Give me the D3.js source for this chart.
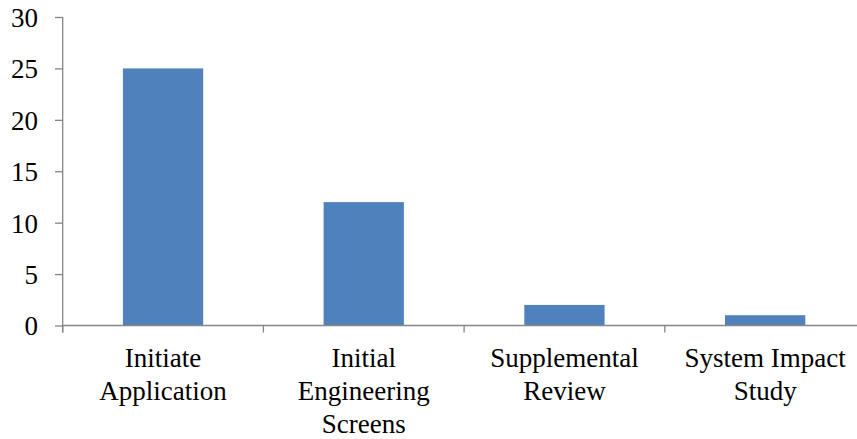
<!DOCTYPE html>
<html>
<head>
<meta charset="utf-8">
<script src="https://cdn.jsdelivr.net/npm/d3@7"></script>
<style>
  html, body { margin: 0; padding: 0; background: #fff; }
  svg { display: block; }
</style>
</head>
<body>
<svg id="chart" width="857" height="439"></svg>
<script>
const categories = [
  ["Initiate", "Application"],
  ["Initial", "Engineering", "Screens"],
  ["Supplemental", "Review"],
  ["System Impact", "Study"]
];
const values = [25, 12, 2, 1];
const yTicks = [0, 5, 10, 15, 20, 25, 30];

const W = 857, H = 439;
const mLeft = 62.7, mRight = 865.5, mTop = 17, mBottom = 325.5;
const axisColor = "#868686";
const barColor = "#4F81BD";
const font = "Liberation Serif, Times New Roman, serif";

const svg = d3.select("#chart");
const keys = categories.map((c, i) => i);

const xBand = d3.scaleBand().domain(keys).range([mLeft, mRight]).padding(0);
const xBar = d3.scaleBand().domain(keys).range([mLeft, mRight]).paddingInner(0.6).paddingOuter(0.3);
const y = d3.scaleLinear().domain([0, 30]).range([mBottom, mTop]);

// bars
svg.append("g").selectAll("rect").data(values).join("rect")
  .attr("x", (d, i) => xBar(i))
  .attr("width", xBar.bandwidth())
  .attr("y", d => y(d))
  .attr("height", d => y(0) - y(d))
  .attr("fill", barColor);

// y axis
const yAxis = d3.axisLeft(y).tickValues(yTicks).tickSize(7.7).tickPadding(17).tickFormat(d3.format("d"));
const gy = svg.append("g").attr("transform", `translate(${mLeft},0)`).call(yAxis);
gy.select(".domain").remove();
gy.selectAll(".tick line").attr("stroke", axisColor).attr("stroke-width", 1.3);
gy.selectAll(".tick text").attr("font-family", font).attr("font-size", 27).attr("fill", "#000").attr("dy", "0.35em");
svg.append("line")
  .attr("x1", mLeft).attr("x2", mLeft).attr("y1", y(30)).attr("y2", mBottom + 7)
  .attr("stroke", axisColor).attr("stroke-width", 1.3);

// x axis line
svg.append("line")
  .attr("x1", mLeft).attr("x2", W).attr("y1", mBottom).attr("y2", mBottom)
  .attr("stroke", axisColor).attr("stroke-width", 1.5);

// x tick marks at band boundaries
const bounds = keys.map(k => xBand(k)).concat([xBand(keys[keys.length - 1]) + xBand.bandwidth()]);
svg.append("g").selectAll("line").data(bounds).join("line")
  .attr("x1", d => d).attr("x2", d => d)
  .attr("y1", mBottom).attr("y2", mBottom + 7)
  .attr("stroke", axisColor).attr("stroke-width", 1.3);

// category labels
const lab = svg.append("g").selectAll("text").data(categories).join("text")
  .attr("font-family", font).attr("font-size", 27).attr("fill", "#000")
  .attr("text-anchor", "middle")
  .attr("x", (d, i) => xBand(i) + xBand.bandwidth() / 2)
  .attr("y", 367);
lab.selectAll("tspan").data(d => d).join("tspan")
  .attr("x", function () { return this.parentNode.getAttribute("x"); })
  .attr("dy", (d, i) => i === 0 ? 0 : 33)
  .text(d => d);
</script>
</body>
</html>
